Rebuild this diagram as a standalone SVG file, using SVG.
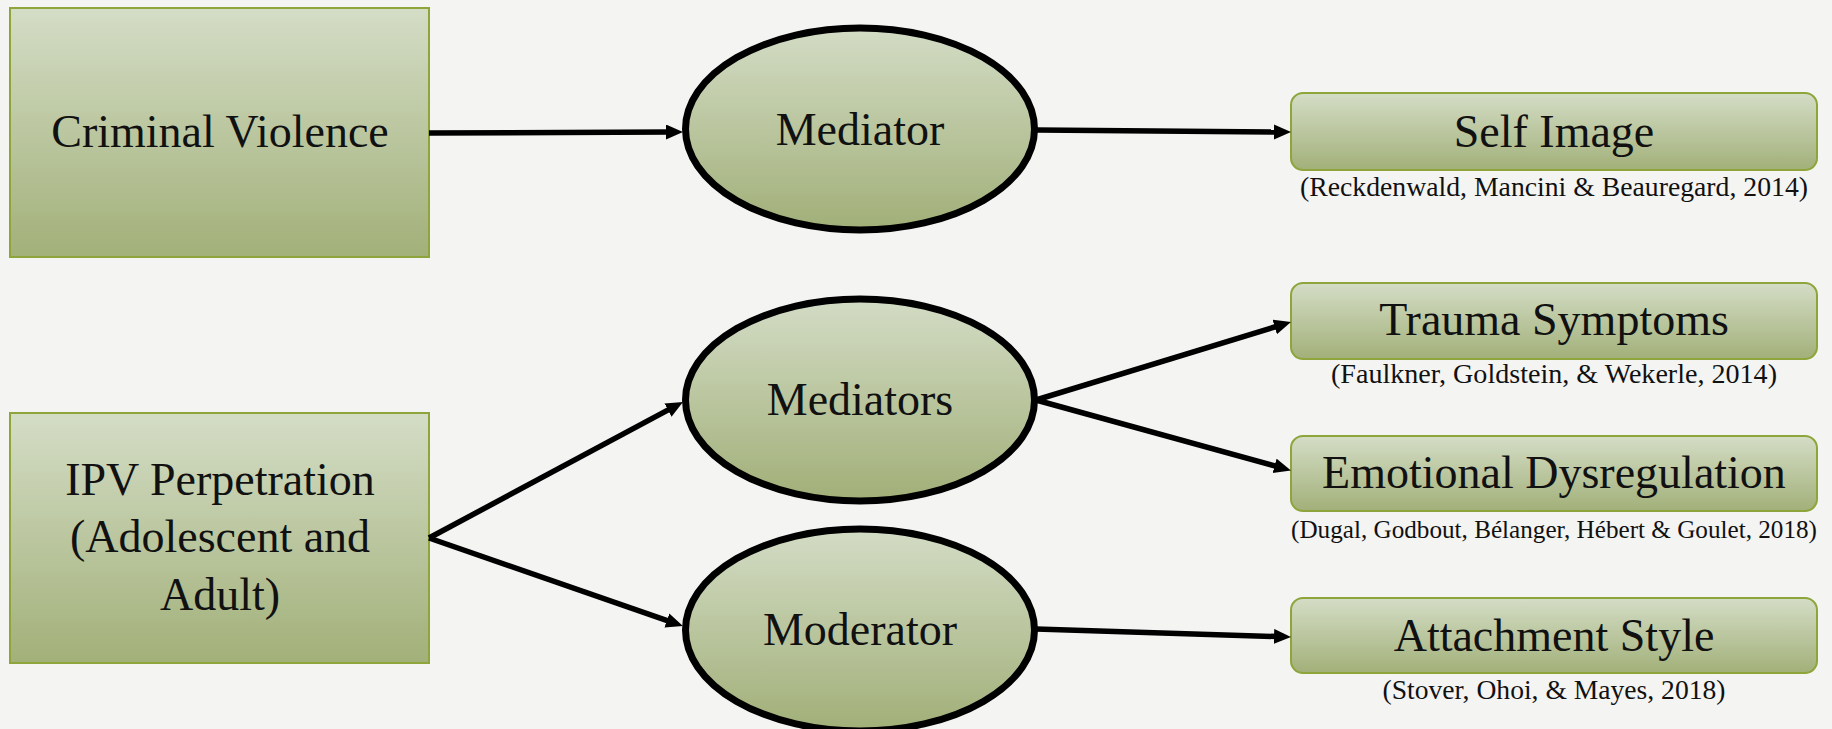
<svg xmlns="http://www.w3.org/2000/svg" width="1832" height="729" viewBox="0 0 1832 729">
<defs>
<linearGradient id="gBox" x1="0" y1="0" x2="0" y2="1">
<stop offset="0" stop-color="#d4ddc6"/>
<stop offset="1" stop-color="#a2b079"/>
</linearGradient>
<linearGradient id="gEl" x1="0" y1="0" x2="0" y2="1">
<stop offset="0" stop-color="#d3dcc5"/>
<stop offset="1" stop-color="#a1af78"/>
</linearGradient>
<marker id="ah" markerUnits="userSpaceOnUse" markerWidth="18" markerHeight="16" refX="5" refY="7.5" orient="auto">
<path d="M0,0 L17,7.5 L0,15 z" fill="#000"/>
</marker>
</defs>
<style>
.bg{fill:#f4f4f3}
.box{fill:url(#gBox);stroke:#8ea53b;stroke-width:2}
.rbox{fill:url(#gBox);stroke:#8ea53b;stroke-width:2}
.el{fill:url(#gEl);stroke:#000;stroke-width:7}
.lbl{font-family:"Liberation Serif","Times New Roman",serif;font-size:46px;fill:#111;text-anchor:middle}
.cit{font-family:"Liberation Serif","Times New Roman",serif;font-size:27px;fill:#111;text-anchor:middle}
.con{stroke:#000;stroke-width:5.5;fill:none;marker-end:url(#ah)}
</style>
<rect class="bg" x="0" y="0" width="1832" height="729"/>

<g id="criminal-violence">
<rect class="box" x="10" y="8" width="419" height="249"/>
<text class="lbl" x="220" y="147">Criminal Violence</text>
</g>
<g id="ipv-perpetration">
<rect class="box" x="10" y="413" width="419" height="250"/>
<text class="lbl" x="220" y="495">IPV Perpetration</text>
<text class="lbl" x="220" y="552">(Adolescent and</text>
<text class="lbl" x="220" y="610">Adult)</text>
</g>
<g id="mediator">
<ellipse class="el" cx="860" cy="129" rx="174.5" ry="101"/>
<text class="lbl" x="860" y="145">Mediator</text>
</g>
<g id="mediators">
<ellipse class="el" cx="860" cy="400" rx="174.5" ry="101"/>
<text class="lbl" x="860" y="415">Mediators</text>
</g>
<g id="moderator">
<ellipse class="el" cx="860" cy="630" rx="174.5" ry="101"/>
<text class="lbl" x="860" y="645">Moderator</text>
</g>
<g id="self-image">
<rect class="rbox" x="1291" y="93" width="526" height="77" rx="12"/>
<text class="lbl" x="1554" y="147">Self Image</text>
<text class="cit" x="1554" y="196" textLength="508" lengthAdjust="spacingAndGlyphs">(Reckdenwald, Mancini &amp; Beauregard, 2014)</text>
</g>
<g id="trauma-symptoms">
<rect class="rbox" x="1291" y="283" width="526" height="76" rx="12"/>
<text class="lbl" x="1554" y="335">Trauma Symptoms</text>
<text class="cit" x="1554" y="383" textLength="446" lengthAdjust="spacingAndGlyphs">(Faulkner, Goldstein, &amp; Wekerle, 2014)</text>
</g>
<g id="emotional-dysregulation">
<rect class="rbox" x="1291" y="436" width="526" height="75" rx="12"/>
<text class="lbl" x="1554" y="488">Emotional Dysregulation</text>
<text class="cit" x="1554" y="538" style="font-size:26px" textLength="526" lengthAdjust="spacingAndGlyphs">(Dugal, Godbout, Bélanger, Hébert &amp; Goulet, 2018)</text>
</g>
<g id="attachment-style">
<rect class="rbox" x="1291" y="598" width="526" height="75" rx="12"/>
<text class="lbl" x="1554" y="651">Attachment Style</text>
<text class="cit" x="1554" y="699" textLength="343" lengthAdjust="spacingAndGlyphs">(Stover, Ohoi, &amp; Mayes, 2018)</text>
</g>

<g id="connectors">
<line class="con" x1="429" y1="133" x2="671" y2="132"/>
<line class="con" x1="1037" y1="130" x2="1279" y2="132"/>
<line class="con" x1="429" y1="538" x2="672.4" y2="407.7"/>
<line class="con" x1="429" y1="538" x2="671.6" y2="622.1"/>
<line class="con" x1="1036" y1="400" x2="1279.5" y2="325.5"/>
<line class="con" x1="1036" y1="400" x2="1279.4" y2="467.2"/>
<line class="con" x1="1036" y1="629" x2="1279" y2="636.6"/>
</g>
</svg>
